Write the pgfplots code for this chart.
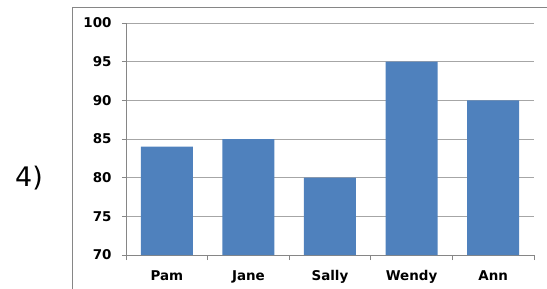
\documentclass[border=0pt]{standalone}
\usepackage{fontspec}
\setmainfont{DejaVu Sans}
\usepackage{pgfplots}
\pgfplotsset{compat=1.18}
\definecolor{barblue}{HTML}{4F81BD}
\definecolor{gridgray}{HTML}{A6A6A6}
\definecolor{axgray}{HTML}{868686}
\begin{document}
\begin{tikzpicture}
\useasboundingbox (-126bp,-34bp) rectangle (421bp,255bp);
\draw[axgray, line width=0.8bp] (-54bp,-60bp) -- (-54bp,248bp) -- (440bp,248bp);
\node[font=\fontsize{27}{30}\selectfont] at (-97bp,77bp) {4)};
\begin{axis}[
  scale only axis,
  width=408bp, height=232bp,
  at={(0,0)}, anchor=origin,
  xmin=0.5, xmax=5.5,
  ymin=70, ymax=100,
  ytick={70,75,...,100},
  xtick={1,2,3,4,5},
  xticklabels={Pam,Jane,Sally,Wendy,Ann},
  minor xtick={0.5,1.5,2.5,3.5,4.5,5.5},
  major x tick style={draw=none},
  minor tick length=5bp,
  major tick length=4bp,
  tick align=outside,
  tick style={axgray, line width=0.8bp},
  axis lines*=left,
  axis line style={axgray, line width=0.8bp, -},
  ymajorgrids,
  grid style={gridgray, line width=0.8bp},
  ticklabel style={font=\bfseries\fontsize{13.5}{16}\selectfont},
  /pgf/number format/assume math mode=true,
  yticklabel style={xshift=-7bp},
  xticklabel style={yshift=-8bp},
  ybar,
  bar width=52bp,
  clip=false,
]
\addplot[fill=barblue, draw=none, bar shift=0pt] coordinates {(1,84) (2,85) (3,80) (4,95) (5,90)};
\end{axis}
\end{tikzpicture}
\end{document}
